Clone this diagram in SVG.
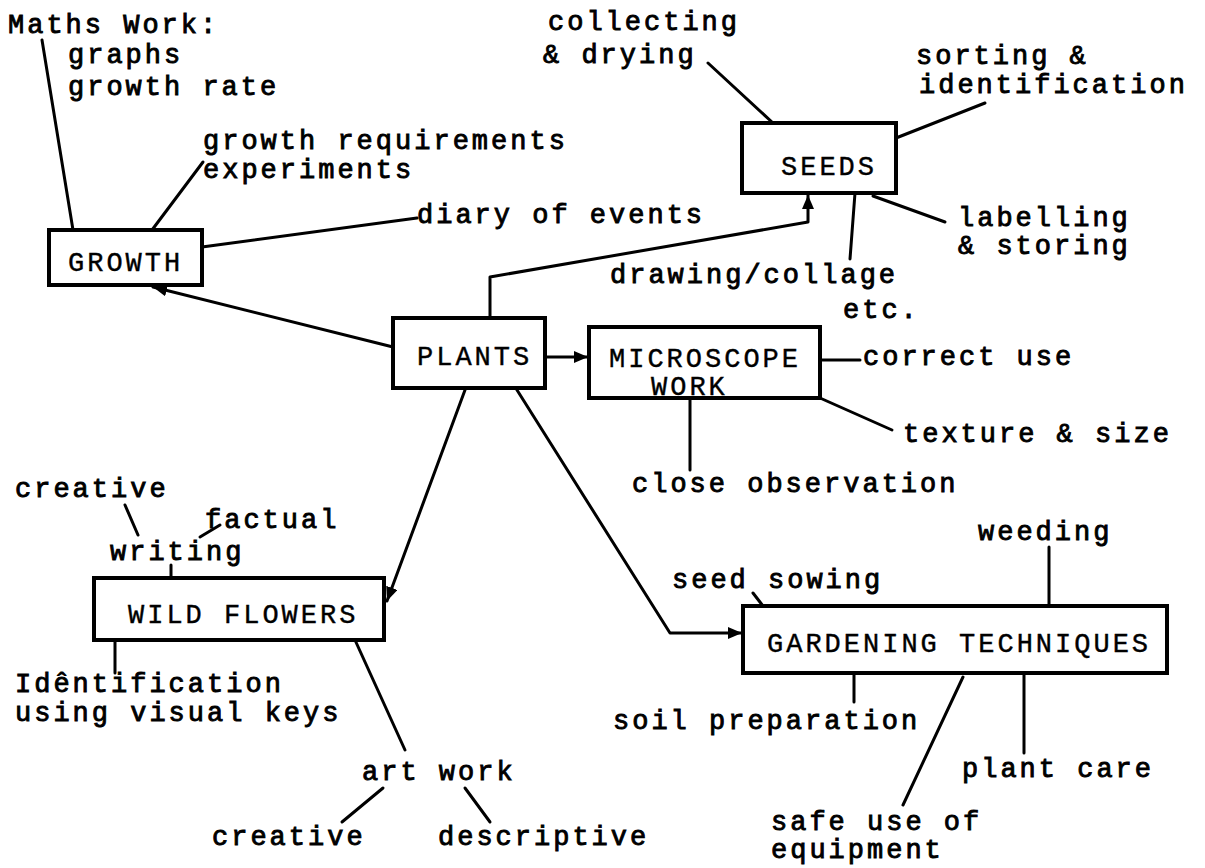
<svg xmlns="http://www.w3.org/2000/svg" width="1205" height="868" viewBox="0 0 1205 868">
<style>
text{font-family:"Liberation Mono","Courier New",monospace;font-size:27px;letter-spacing:3px;fill:#000}
.lbl{stroke:#000;stroke-width:0.9px}
.ttl{stroke:#000;stroke-width:0.4px}
.box{fill:#fff;stroke:#000;stroke-width:4}
.ln{fill:none;stroke:#000;stroke-width:3;stroke-linecap:round;stroke-linejoin:round}
.arr{marker-end:url(#ah)}
</style>
<defs>
<marker id="ah" markerUnits="userSpaceOnUse" markerWidth="16" markerHeight="12" refX="14" refY="6" orient="auto">
<path d="M0,0 L14,6 L0,12 z" fill="#000"/>
</marker>
</defs>
<rect width="1205" height="868" fill="#fff"/>
<g id="connectors">
<path class="ln arr" d="M393,347 L153,287"/>
<path class="ln arr" d="M490,318 L490,277 L808,222 L808,195"/>
<path class="ln arr" d="M545,357 L588,357"/>
<path class="ln arr" d="M465,390 L387,601"/>
<path class="ln arr" d="M517,390 L670,633 L742,633"/>
<path class="ln" d="M42,40 L73,230"/>
<path class="ln" d="M203,162 L152,230"/>
<path class="ln" d="M202,247 L417,218"/>
<path class="ln" d="M708,63 L773,123"/>
<path class="ln" d="M896,138 L985,103"/>
<path class="ln" d="M873,196 L945,222"/>
<path class="ln" d="M855,193 L850,259"/>
<path class="ln" d="M820,360 L860,360"/>
<path class="ln" d="M820,398 L892,430"/>
<path class="ln" d="M690,400 L690,470"/>
<path class="ln" d="M125,505 L138,535"/>
<path class="ln" d="M200,537 L220,525"/>
<path class="ln" d="M171,565 L171,578"/>
<path class="ln" d="M115,640 L115,673"/>
<path class="ln" d="M355,640 L405,750"/>
<path class="ln" d="M383,788 L342,822"/>
<path class="ln" d="M465,788 L490,822"/>
<path class="ln" d="M753,593 L763,606"/>
<path class="ln" d="M1049,547 L1049,606"/>
<path class="ln" d="M854,673 L854,702"/>
<path class="ln" d="M963,677 L903,805"/>
<path class="ln" d="M1024,673 L1024,753"/>
</g>
<g id="growth"><rect class="box" x="49" y="230" width="153" height="55"/><text class="ttl" x="68" y="271">GROWTH</text></g>
<g id="seeds"><rect class="box" x="742" y="123" width="154" height="70"/><text class="ttl" x="781" y="175">SEEDS</text></g>
<g id="plants"><rect class="box" x="393" y="318" width="152" height="70"/><text class="ttl" x="417" y="365">PLANTS</text></g>
<g id="microscope"><rect class="box" x="589" y="327" width="231" height="71"/><text class="ttl" x="609" y="367">MICROSCOPE</text><text class="ttl" x="651" y="395">WORK</text></g>
<g id="wildflowers"><rect class="box" x="94" y="578" width="290" height="62"/><text class="ttl" x="128" y="623">WILD FLOWERS</text></g>
<g id="gardening"><rect class="box" x="743" y="606" width="424" height="67"/><text class="ttl" x="767" y="652">GARDENING TECHNIQUES</text></g>
<g id="labels">
<text class="lbl" x="8" y="33">Maths Work:</text>
<text class="lbl" x="68" y="63">graphs</text>
<text class="lbl" x="68" y="95">growth rate</text>
<text class="lbl" x="203" y="149">growth requirements</text>
<text class="lbl" x="203" y="178">experiments</text>
<text class="lbl" x="417" y="223">diary of events</text>
<text class="lbl" x="548" y="30">collecting</text>
<text class="lbl" x="543" y="63">&amp; drying</text>
<text class="lbl" x="916" y="64">sorting &amp;</text>
<text class="lbl" x="919" y="93">identification</text>
<text class="lbl" x="958" y="226">labelling</text>
<text class="lbl" x="958" y="254">&amp; storing</text>
<text class="lbl" x="610" y="283">drawing/collage</text>
<text class="lbl" x="843" y="318">etc.</text>
<text class="lbl" x="863" y="365">correct use</text>
<text class="lbl" x="903" y="442">texture &amp; size</text>
<text class="lbl" x="632" y="492">close observation</text>
<text class="lbl" x="15" y="497">creative</text>
<text class="lbl" x="205" y="528">factual</text>
<text class="lbl" x="110" y="560">writing</text>
<text class="lbl" x="15" y="692">Idêntification</text>
<text class="lbl" x="15" y="721">using visual keys</text>
<text class="lbl" x="362" y="780">art work</text>
<text class="lbl" x="212" y="845">creative</text>
<text class="lbl" x="438" y="845">descriptive</text>
<text class="lbl" x="672" y="588">seed sowing</text>
<text class="lbl" x="978" y="540">weeding</text>
<text class="lbl" x="613" y="729">soil preparation</text>
<text class="lbl" x="962" y="777">plant care</text>
<text class="lbl" x="771" y="830">safe use of</text>
<text class="lbl" x="771" y="858">equipment</text>
</g>
</svg>
